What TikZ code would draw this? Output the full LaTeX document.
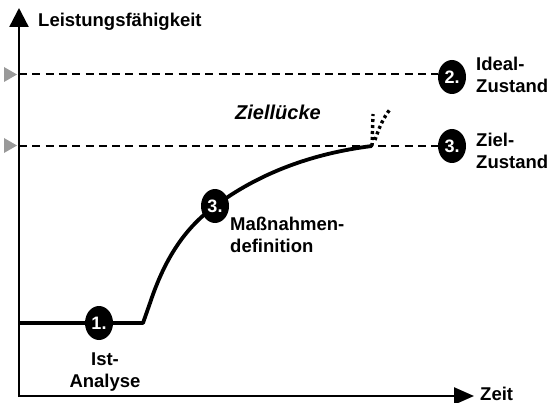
\documentclass[tikz,border=0pt]{standalone}
\usepackage{fontspec}
\setmainfont{Liberation Sans}
\usetikzlibrary{arrows.meta,shapes.geometric}
\begin{document}
\begin{tikzpicture}[x=1pt,y=-1pt,
  lbl/.style={font=\fontsize{18.5}{22}\selectfont\bfseries, inner sep=0pt},
  stepmark/.style={ellipse, fill=black, minimum width=28pt, minimum height=34pt,
    inner sep=0pt, text=white, font=\fontsize{18}{18}\selectfont\bfseries},
  axisline/.style={line width=2.4pt},
  levelline/.style={line width=1.8pt, dash pattern=on 8pt off 5.3pt},
  levelmark/.style={fill=gray!80, draw=none},
  curveline/.style={line width=3.8pt, line join=round},
  gapline/.style={line width=3.4pt, dash pattern=on 3pt off 3pt}]
\useasboundingbox (0,0) rectangle (553,403);

% axes
\coordinate (O) at (19,397);
\coordinate (ytip) at (19,8);
\coordinate (xtip) at (474,396);
\draw[axisline, -{Triangle[length=19pt,width=19pt]}] (O) -- (ytip);
\draw[axisline, -{Triangle[length=20pt,width=17pt]}] (19,396) -- (xtip);
\node[lbl, anchor=base west] (ylab) at (38,27) {Leistungsfähigkeit};
\node[lbl, anchor=base west] (xlab) at (480,400) {Zeit};

% target levels
\node[stepmark] (ideal) at (452,77) {2.};
\node[stepmark] (ziel) at (452,146) {3.};
\coordinate (idealL) at (19,74);
\coordinate (zielL) at (19,146);
\draw[levelline] (idealL) -- (ideal.west |- idealL);
\draw[levelline] (zielL) -- (ziel.west |- zielL);
\fill[levelmark] (4,67) -- (17,74.5) -- (4,82) -- cycle;
\fill[levelmark] (4,138) -- (17,145.5) -- (4,153) -- cycle;
\node[lbl, anchor=base west, align=left] (ideallab) at (476,93) {Ideal-\\Zustand};
\node[lbl, anchor=base west, align=left] (ziellab) at (476,169) {Ziel-\\Zustand};

% development curve
\coordinate (start) at (19,323);
\coordinate (knee) at (143,323);
\coordinate (end) at (372,146);
\draw[curveline] (start) -- (knee)
  -- (150,303)
  .. controls (165,258) and (185,228) .. (215,206)
  .. controls (250,180) and (300,155) .. (end);
\node[stepmark] (ist) at (99,323) {1.};
\node[stepmark] (mass) at (215,206) {3.};

% remaining gap above the target
\draw[gapline] (end) -- (373,114);
\draw[gapline] (375,140) .. controls (379,128) and (383,118) .. (391,108);

\node[lbl, anchor=base west, font=\fontsize{20}{22}\selectfont\bfseries\itshape] (gap) at (235,120) {Ziellücke};
\node[lbl, anchor=base west, align=left] (masslab) at (230,252) {Maßnahmen-\\definition};
\node[lbl, anchor=base, align=center] (istlab) at (105,387) {Ist-\\Analyse};
\end{tikzpicture}
\end{document}
